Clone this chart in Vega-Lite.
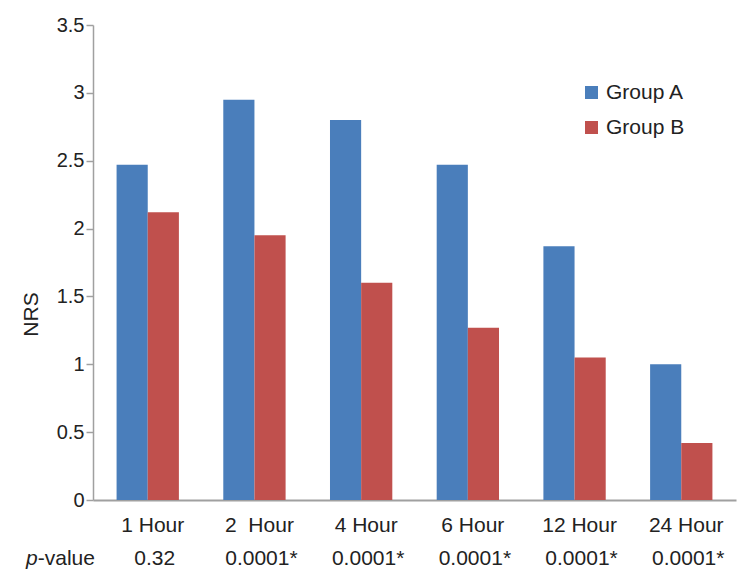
{
  "$schema": "https://vega.github.io/schema/vega-lite/v6.json",
  "width": 643,
  "height": 475,
  "autosize": {"type": "none"},
  "padding": {"left": 93, "top": 25, "right": 18, "bottom": 86},
  "background": "white",
  "config": {"view": {"stroke": null}, "font": "Liberation Sans"},
  "datasets": {
    "nrs": [
      {"time": "1 Hour", "group": "Group A", "NRS": 2.47},
      {"time": "1 Hour", "group": "Group B", "NRS": 2.12},
      {"time": "2  Hour", "group": "Group A", "NRS": 2.95},
      {"time": "2  Hour", "group": "Group B", "NRS": 1.95},
      {"time": "4 Hour", "group": "Group A", "NRS": 2.80},
      {"time": "4 Hour", "group": "Group B", "NRS": 1.60},
      {"time": "6 Hour", "group": "Group A", "NRS": 2.47},
      {"time": "6 Hour", "group": "Group B", "NRS": 1.27},
      {"time": "12 Hour", "group": "Group A", "NRS": 1.87},
      {"time": "12 Hour", "group": "Group B", "NRS": 1.05},
      {"time": "24 Hour", "group": "Group A", "NRS": 1.00},
      {"time": "24 Hour", "group": "Group B", "NRS": 0.42}
    ],
    "pv": [
      {"time": "1 Hour", "p": "0.32"},
      {"time": "2  Hour", "p": "0.0001*"},
      {"time": "4 Hour", "p": "0.0001*"},
      {"time": "6 Hour", "p": "0.0001*"},
      {"time": "12 Hour", "p": "0.0001*"},
      {"time": "24 Hour", "p": "0.0001*"}
    ]
  },
  "layer": [
    {
      "data": {"name": "nrs"},
      "mark": {"type": "bar"},
      "encoding": {
        "x": {
          "field": "time", "type": "nominal",
          "sort": ["1 Hour", "2  Hour", "4 Hour", "6 Hour", "12 Hour", "24 Hour"],
          "scale": {"paddingInner": 0.416, "paddingOuter": 0.221},
          "axis": {
            "title": null, "labelAngle": 0, "ticks": false,
            "domainColor": "#a0a0a0", "domainWidth": 2,
            "labelFontSize": 21, "labelColor": "#222", "labelPadding": 14,
            "labelOffset": 5,
            "labelExpr": "replace(datum.label, '  ', ' \u00a0')"
          }
        },
        "xOffset": {"field": "group", "type": "nominal", "scale": {"paddingInner": 0, "paddingOuter": 0}},
        "y": {
          "field": "NRS", "type": "quantitative",
          "scale": {"domain": [0, 3.5], "nice": false},
          "axis": {
            "values": [0, 0.5, 1, 1.5, 2, 2.5, 3, 3.5],
            "format": "~g", "grid": false,
            "domainColor": "#a0a0a0", "domainWidth": 1.5,
            "tickColor": "#a0a0a0", "tickWidth": 1.5, "tickSize": 7,
            "labelFontSize": 20, "labelColor": "#222", "labelPadding": 2,
            "title": "NRS", "titleFontSize": 21, "titleFontWeight": "normal", "titleColor": "#222",
            "titleX": -56, "titleY": 289, "titleBaseline": "alphabetic", "titleAlign": "center", "titleAngle": -90
          }
        },
        "color": {
          "field": "group", "type": "nominal",
          "scale": {"range": ["#4a7ebb", "#c0504d"]},
          "legend": {
            "orient": "none", "legendX": 488, "legendY": 57, "title": null,
            "symbolType": "square", "symbolSize": 169, "symbolStrokeWidth": 0,
            "labelFontSize": 21, "labelColor": "#222", "labelOffset": 4, "rowPadding": 13,
            "padding": 0
          }
        }
      }
    },
    {
      "data": {"name": "pv"},
      "mark": {"type": "text", "fontSize": 21, "baseline": "alphabetic", "dx": 7, "color": "#222"},
      "encoding": {
        "x": {"field": "time", "type": "nominal", "sort": ["1 Hour", "2  Hour", "4 Hour", "6 Hour", "12 Hour", "24 Hour"]},
        "y": {"datum": -0.479},
        "text": {"field": "p"}
      }
    },
    {
      "data": {"values": [{"t": "p"}]},
      "mark": {"type": "text", "fontSize": 21, "baseline": "alphabetic", "align": "right", "fontStyle": "italic", "dx": -110, "color": "#222"},
      "encoding": {
        "x": {"datum": "1 Hour"},
        "y": {"datum": -0.479},
        "text": {"field": "t"}
      }
    },
    {
      "data": {"values": [{"t": "-value"}]},
      "mark": {"type": "text", "fontSize": 21, "baseline": "alphabetic", "align": "left", "dx": -110, "color": "#222"},
      "encoding": {
        "x": {"datum": "1 Hour"},
        "y": {"datum": -0.479},
        "text": {"field": "t"}
      }
    }
  ]
}
